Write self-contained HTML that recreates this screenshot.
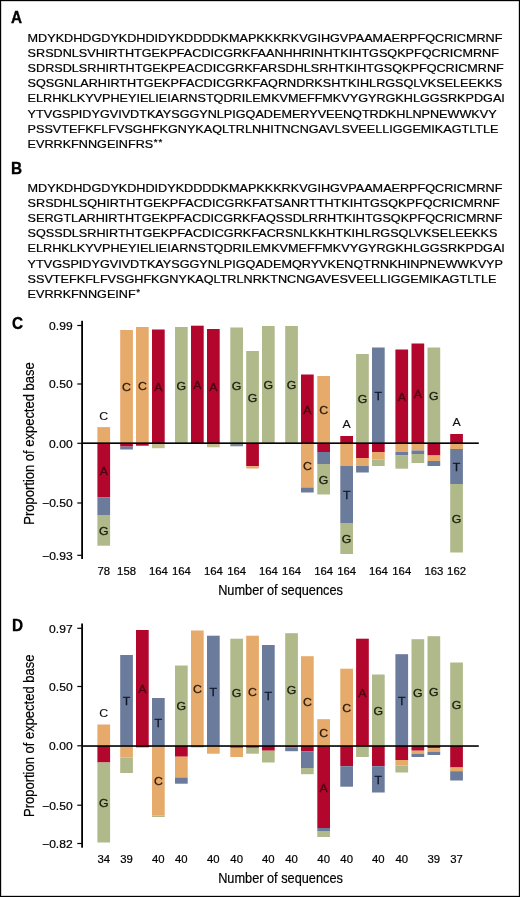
<!DOCTYPE html>
<html><head><meta charset="utf-8"><title>Figure</title>
<style>
html,body{margin:0;padding:0;background:#fff;}
body{width:520px;height:897px;overflow:hidden;position:relative;}
svg{position:absolute;left:0;top:0;display:block;filter:blur(0.35px);}
svg text{font-family:"Liberation Sans",sans-serif;}
#frame{position:absolute;left:0;top:0;width:518px;height:895px;border:1px solid #000;box-shadow:inset 0 0 0 0.5px rgba(0,0,0,0.35);}
</style></head><body>
<svg width="520" height="897" viewBox="0 0 520 897">
<rect x="0" y="0" width="520" height="897" fill="#fff"/>
<text transform="translate(11.00,22.60) scale(0.94,1)" font-size="16.3" text-anchor="start" font-weight="bold" fill="#000" stroke="#000" stroke-width="0.35">A</text>
<text transform="translate(27.60,41.60) scale(1.1694,1)" font-size="10.8" text-anchor="start" font-weight="normal" fill="#000" stroke="#000" stroke-width="0.2">MDYKDHDGDYKDHDIDYKDDDDKMAPKKKRKVGIHGVPAAMAERPFQCRICMRNF</text>
<text transform="translate(27.60,56.79) scale(1.1694,1)" font-size="10.8" text-anchor="start" font-weight="normal" fill="#000" stroke="#000" stroke-width="0.2">SRSDNLSVHIRTHTGEKPFACDICGRKFAANHHRINHTKIHTGSQKPFQCRICMRNF</text>
<text transform="translate(27.60,71.98) scale(1.1694,1)" font-size="10.8" text-anchor="start" font-weight="normal" fill="#000" stroke="#000" stroke-width="0.2">SDRSDLSRHIRTHTGEKPEACDICGRKFARSDHLSRHTKIHTGSQKPFQCRICMRNF</text>
<text transform="translate(27.60,87.17) scale(1.1694,1)" font-size="10.8" text-anchor="start" font-weight="normal" fill="#000" stroke="#000" stroke-width="0.2">SQSGNLARHIRTHTGEKPFACDICGRKFAQRNDRKSHTKIHLRGSQLVKSELEEKKS</text>
<text transform="translate(27.60,102.36) scale(1.1694,1)" font-size="10.8" text-anchor="start" font-weight="normal" fill="#000" stroke="#000" stroke-width="0.2">ELRHKLKYVPHEYIELIEIARNSTQDRILEMKVMEFFMKVYGYRGKHLGGSRKPDGAI</text>
<text transform="translate(27.60,117.55) scale(1.1694,1)" font-size="10.8" text-anchor="start" font-weight="normal" fill="#000" stroke="#000" stroke-width="0.2">YTVGSPIDYGVIVDTKAYSGGYNLPIGQADEMERYVEENQTRDKHLNPNEWWKVY</text>
<text transform="translate(27.60,132.74) scale(1.1694,1)" font-size="10.8" text-anchor="start" font-weight="normal" fill="#000" stroke="#000" stroke-width="0.2">PSSVTEFKFLFVSGHFKGNYKAQLTRLNHITNCNGAVLSVEELLIGGEMIKAGTLTLE</text>
<text transform="translate(27.60,147.93) scale(1.1694,1)" font-size="10.8" text-anchor="start" font-weight="normal" fill="#000" stroke="#000" stroke-width="0.2">EVRRKFNNGEINFRS<tspan font-size="8.4" dx="0.5" dy="-2.6">*</tspan><tspan font-size="8.4" dx="0.7">*</tspan></text>
<text transform="translate(11.10,173.80) scale(0.94,1)" font-size="16.3" text-anchor="start" font-weight="bold" fill="#000" stroke="#000" stroke-width="0.35">B</text>
<text transform="translate(27.60,191.70) scale(1.1694,1)" font-size="10.8" text-anchor="start" font-weight="normal" fill="#000" stroke="#000" stroke-width="0.2">MDYKDHDGDYKDHDIDYKDDDDKMAPKKKRKVGIHGVPAAMAERPFQCRICMRNF</text>
<text transform="translate(27.60,206.89) scale(1.1694,1)" font-size="10.8" text-anchor="start" font-weight="normal" fill="#000" stroke="#000" stroke-width="0.2">SRSDHLSQHIRTHTGEKPFACDICGRKFATSANRTTHTKIHTGSQKPFQCRICMRNF</text>
<text transform="translate(27.60,222.08) scale(1.1694,1)" font-size="10.8" text-anchor="start" font-weight="normal" fill="#000" stroke="#000" stroke-width="0.2">SERGTLARHIRTHTGEKPFACDICGRKFAQSSDLRRHTKIHTGSQKPFQCRICMRNF</text>
<text transform="translate(27.60,237.27) scale(1.1694,1)" font-size="10.8" text-anchor="start" font-weight="normal" fill="#000" stroke="#000" stroke-width="0.2">SQSSDLSRHIRTHTGEKPFACDICGRKFACRSNLKKHTKIHLRGSQLVKSELEEKKS</text>
<text transform="translate(27.60,252.46) scale(1.1694,1)" font-size="10.8" text-anchor="start" font-weight="normal" fill="#000" stroke="#000" stroke-width="0.2">ELRHKLKYVPHEYIELIEIARNSTQDRILEMKVMEFFMKVYGYRGKHLGGSRKPDGAI</text>
<text transform="translate(27.60,267.65) scale(1.1694,1)" font-size="10.8" text-anchor="start" font-weight="normal" fill="#000" stroke="#000" stroke-width="0.2">YTVGSPIDYGVIVDTKAYSGGYNLPIGQADEMQRYVKENQTRNKHINPNEWWKVYP</text>
<text transform="translate(27.60,282.84) scale(1.1694,1)" font-size="10.8" text-anchor="start" font-weight="normal" fill="#000" stroke="#000" stroke-width="0.2">SSVTEFKFLFVSGHFKGNYKAQLTRLNRKTNCNGAVESVEELLIGGEMIKAGTLTLE</text>
<text transform="translate(27.60,298.03) scale(1.1694,1)" font-size="10.8" text-anchor="start" font-weight="normal" fill="#000" stroke="#000" stroke-width="0.2">EVRRKFNNGEINF<tspan font-size="8.4" dx="0.5" dy="-2.6">*</tspan></text>
<rect x="97.40" y="427.10" width="12.7" height="16.00" fill="#e6aa6a"/>
<rect x="97.40" y="443.10" width="12.7" height="54.40" fill="#b3062c"/>
<rect x="97.40" y="497.50" width="12.7" height="17.50" fill="#6b7b9c"/>
<rect x="97.40" y="515.00" width="12.7" height="30.70" fill="#b0b98a"/>
<rect x="120.20" y="330.00" width="12.7" height="113.10" fill="#e6aa6a"/>
<rect x="120.20" y="443.10" width="12.7" height="3.50" fill="#b3062c"/>
<rect x="120.20" y="446.60" width="12.7" height="2.90" fill="#6b7b9c"/>
<rect x="136.00" y="327.00" width="12.7" height="116.10" fill="#e6aa6a"/>
<rect x="136.00" y="443.10" width="12.7" height="2.60" fill="#b3062c"/>
<rect x="152.00" y="329.50" width="12.7" height="113.60" fill="#b3062c"/>
<rect x="152.00" y="443.10" width="12.7" height="5.10" fill="#c3bf8f"/>
<rect x="175.00" y="327.00" width="12.7" height="116.10" fill="#b0b98a"/>
<rect x="191.00" y="325.70" width="12.7" height="117.40" fill="#b3062c"/>
<rect x="207.00" y="329.00" width="12.7" height="114.10" fill="#b3062c"/>
<rect x="207.00" y="443.10" width="12.7" height="4.20" fill="#c3bf8f"/>
<rect x="230.30" y="327.50" width="12.7" height="115.60" fill="#b0b98a"/>
<rect x="230.30" y="443.10" width="12.7" height="3.20" fill="#7f8894"/>
<rect x="246.20" y="351.00" width="12.7" height="92.10" fill="#b0b98a"/>
<rect x="246.20" y="443.10" width="12.7" height="23.10" fill="#b3062c"/>
<rect x="246.20" y="466.20" width="12.7" height="2.30" fill="#e6aa6a"/>
<rect x="262.00" y="326.00" width="12.7" height="117.10" fill="#b0b98a"/>
<rect x="285.20" y="326.00" width="12.7" height="117.10" fill="#b0b98a"/>
<rect x="301.00" y="374.50" width="12.7" height="68.60" fill="#b3062c"/>
<rect x="301.00" y="443.10" width="12.7" height="44.40" fill="#e6aa6a"/>
<rect x="301.00" y="487.50" width="12.7" height="5.00" fill="#6b7b9c"/>
<rect x="317.30" y="376.00" width="12.7" height="67.10" fill="#e6aa6a"/>
<rect x="317.30" y="443.10" width="12.7" height="8.90" fill="#b3062c"/>
<rect x="317.30" y="452.00" width="12.7" height="12.00" fill="#6b7b9c"/>
<rect x="317.30" y="464.00" width="12.7" height="30.50" fill="#b0b98a"/>
<rect x="340.30" y="436.00" width="12.7" height="7.10" fill="#b3062c"/>
<rect x="340.30" y="443.10" width="12.7" height="22.90" fill="#e6aa6a"/>
<rect x="340.30" y="466.00" width="12.7" height="57.00" fill="#6b7b9c"/>
<rect x="340.30" y="523.00" width="12.7" height="31.00" fill="#b0b98a"/>
<rect x="356.10" y="354.00" width="12.7" height="89.10" fill="#b0b98a"/>
<rect x="356.10" y="443.10" width="12.7" height="14.90" fill="#b3062c"/>
<rect x="356.10" y="458.00" width="12.7" height="8.00" fill="#e6aa6a"/>
<rect x="356.10" y="466.00" width="12.7" height="6.50" fill="#6b7b9c"/>
<rect x="372.00" y="347.50" width="12.7" height="95.60" fill="#6b7b9c"/>
<rect x="372.00" y="443.10" width="12.7" height="8.90" fill="#b3062c"/>
<rect x="372.00" y="452.00" width="12.7" height="7.50" fill="#e6aa6a"/>
<rect x="372.00" y="459.50" width="12.7" height="6.50" fill="#b0b98a"/>
<rect x="395.40" y="349.50" width="12.7" height="93.60" fill="#b3062c"/>
<rect x="395.40" y="443.10" width="12.7" height="8.90" fill="#e6aa6a"/>
<rect x="395.40" y="452.00" width="12.7" height="3.50" fill="#6b7b9c"/>
<rect x="395.40" y="455.50" width="12.7" height="13.20" fill="#b0b98a"/>
<rect x="411.50" y="343.50" width="12.7" height="99.60" fill="#b3062c"/>
<rect x="411.50" y="443.10" width="12.7" height="7.40" fill="#e6aa6a"/>
<rect x="411.50" y="450.50" width="12.7" height="3.50" fill="#6b7b9c"/>
<rect x="411.50" y="454.00" width="12.7" height="9.00" fill="#b0b98a"/>
<rect x="427.50" y="347.50" width="12.7" height="95.60" fill="#b0b98a"/>
<rect x="427.50" y="443.10" width="12.7" height="12.40" fill="#b3062c"/>
<rect x="427.50" y="455.50" width="12.7" height="5.50" fill="#e6aa6a"/>
<rect x="427.50" y="461.00" width="12.7" height="5.00" fill="#6b7b9c"/>
<rect x="450.20" y="434.00" width="12.7" height="9.10" fill="#b3062c"/>
<rect x="450.20" y="443.10" width="12.7" height="5.90" fill="#e6aa6a"/>
<rect x="450.20" y="449.00" width="12.7" height="35.00" fill="#6b7b9c"/>
<rect x="450.20" y="484.00" width="12.7" height="68.50" fill="#b0b98a"/>
<rect x="82" y="442.38" width="396.8" height="1.6" fill="#000"/>
<rect x="81.2" y="320.8" width="1.8" height="238.2" fill="#000"/>
<rect x="77.3" y="324.90" width="4.5" height="1.2" fill="#000"/>
<text transform="translate(72.60,329.90) scale(1.15,1)" font-size="10.5" text-anchor="end" font-weight="normal" fill="#000" stroke="#000" stroke-width="0.2">0.99</text>
<rect x="77.3" y="383.40" width="4.5" height="1.2" fill="#000"/>
<text transform="translate(72.60,388.40) scale(1.15,1)" font-size="10.5" text-anchor="end" font-weight="normal" fill="#000" stroke="#000" stroke-width="0.2">0.50</text>
<rect x="77.3" y="442.70" width="4.5" height="1.2" fill="#000"/>
<text transform="translate(72.60,447.70) scale(1.15,1)" font-size="10.5" text-anchor="end" font-weight="normal" fill="#000" stroke="#000" stroke-width="0.2">0.00</text>
<rect x="77.3" y="502.40" width="4.5" height="1.2" fill="#000"/>
<text transform="translate(72.60,507.40) scale(1.15,1)" font-size="10.5" text-anchor="end" font-weight="normal" fill="#000" stroke="#000" stroke-width="0.2">−0.50</text>
<rect x="77.3" y="554.70" width="4.5" height="1.2" fill="#000"/>
<text transform="translate(72.60,559.70) scale(1.15,1)" font-size="10.5" text-anchor="end" font-weight="normal" fill="#000" stroke="#000" stroke-width="0.2">−0.93</text>
<text transform="translate(103.75,419.50) scale(1.12,1)" font-size="11.0" text-anchor="middle" font-weight="normal" fill="#111" stroke="#111" stroke-width="0.12">C</text>
<text transform="translate(103.75,475.00) scale(1.12,1)" font-size="11.0" text-anchor="middle" font-weight="normal" fill="#4a0413" stroke="#4a0413" stroke-width="0.28">A</text>
<text transform="translate(103.75,535.05) scale(1.12,1)" font-size="11.0" text-anchor="middle" font-weight="normal" fill="#1a1c0e" stroke="#1a1c0e" stroke-width="0.28">G</text>
<text transform="translate(126.55,391.25) scale(1.12,1)" font-size="11.0" text-anchor="middle" font-weight="normal" fill="#2a1a0c" stroke="#2a1a0c" stroke-width="0.28">C</text>
<text transform="translate(142.35,389.75) scale(1.12,1)" font-size="11.0" text-anchor="middle" font-weight="normal" fill="#2a1a0c" stroke="#2a1a0c" stroke-width="0.28">C</text>
<text transform="translate(158.35,391.00) scale(1.12,1)" font-size="11.0" text-anchor="middle" font-weight="normal" fill="#4a0413" stroke="#4a0413" stroke-width="0.28">A</text>
<text transform="translate(181.35,389.75) scale(1.12,1)" font-size="11.0" text-anchor="middle" font-weight="normal" fill="#1a1c0e" stroke="#1a1c0e" stroke-width="0.28">G</text>
<text transform="translate(197.35,389.10) scale(1.12,1)" font-size="11.0" text-anchor="middle" font-weight="normal" fill="#4a0413" stroke="#4a0413" stroke-width="0.28">A</text>
<text transform="translate(213.35,390.75) scale(1.12,1)" font-size="11.0" text-anchor="middle" font-weight="normal" fill="#4a0413" stroke="#4a0413" stroke-width="0.28">A</text>
<text transform="translate(236.65,390.00) scale(1.12,1)" font-size="11.0" text-anchor="middle" font-weight="normal" fill="#1a1c0e" stroke="#1a1c0e" stroke-width="0.28">G</text>
<text transform="translate(252.55,401.75) scale(1.12,1)" font-size="11.0" text-anchor="middle" font-weight="normal" fill="#1a1c0e" stroke="#1a1c0e" stroke-width="0.28">G</text>
<text transform="translate(268.35,389.25) scale(1.12,1)" font-size="11.0" text-anchor="middle" font-weight="normal" fill="#1a1c0e" stroke="#1a1c0e" stroke-width="0.28">G</text>
<text transform="translate(291.55,389.25) scale(1.12,1)" font-size="11.0" text-anchor="middle" font-weight="normal" fill="#1a1c0e" stroke="#1a1c0e" stroke-width="0.28">G</text>
<text transform="translate(307.35,413.50) scale(1.12,1)" font-size="11.0" text-anchor="middle" font-weight="normal" fill="#4a0413" stroke="#4a0413" stroke-width="0.28">A</text>
<text transform="translate(307.35,470.00) scale(1.12,1)" font-size="11.0" text-anchor="middle" font-weight="normal" fill="#2a1a0c" stroke="#2a1a0c" stroke-width="0.28">C</text>
<text transform="translate(323.65,414.25) scale(1.12,1)" font-size="11.0" text-anchor="middle" font-weight="normal" fill="#2a1a0c" stroke="#2a1a0c" stroke-width="0.28">C</text>
<text transform="translate(323.65,483.95) scale(1.12,1)" font-size="11.0" text-anchor="middle" font-weight="normal" fill="#1a1c0e" stroke="#1a1c0e" stroke-width="0.28">G</text>
<text transform="translate(346.65,428.40) scale(1.12,1)" font-size="11.0" text-anchor="middle" font-weight="normal" fill="#111" stroke="#111" stroke-width="0.12">A</text>
<text transform="translate(346.65,499.20) scale(1.12,1)" font-size="11.0" text-anchor="middle" font-weight="normal" fill="#10162a" stroke="#10162a" stroke-width="0.28">T</text>
<text transform="translate(346.65,543.20) scale(1.12,1)" font-size="11.0" text-anchor="middle" font-weight="normal" fill="#1a1c0e" stroke="#1a1c0e" stroke-width="0.28">G</text>
<text transform="translate(362.45,403.25) scale(1.12,1)" font-size="11.0" text-anchor="middle" font-weight="normal" fill="#1a1c0e" stroke="#1a1c0e" stroke-width="0.28">G</text>
<text transform="translate(378.35,400.00) scale(1.12,1)" font-size="11.0" text-anchor="middle" font-weight="normal" fill="#10162a" stroke="#10162a" stroke-width="0.28">T</text>
<text transform="translate(401.75,401.00) scale(1.12,1)" font-size="11.0" text-anchor="middle" font-weight="normal" fill="#4a0413" stroke="#4a0413" stroke-width="0.28">A</text>
<text transform="translate(417.85,398.00) scale(1.12,1)" font-size="11.0" text-anchor="middle" font-weight="normal" fill="#4a0413" stroke="#4a0413" stroke-width="0.28">A</text>
<text transform="translate(433.85,400.00) scale(1.12,1)" font-size="11.0" text-anchor="middle" font-weight="normal" fill="#1a1c0e" stroke="#1a1c0e" stroke-width="0.28">G</text>
<text transform="translate(456.55,426.40) scale(1.12,1)" font-size="11.0" text-anchor="middle" font-weight="normal" fill="#111" stroke="#111" stroke-width="0.12">A</text>
<text transform="translate(456.55,471.20) scale(1.12,1)" font-size="11.0" text-anchor="middle" font-weight="normal" fill="#10162a" stroke="#10162a" stroke-width="0.28">T</text>
<text transform="translate(456.55,522.95) scale(1.12,1)" font-size="11.0" text-anchor="middle" font-weight="normal" fill="#1a1c0e" stroke="#1a1c0e" stroke-width="0.28">G</text>
<text transform="translate(103.75,574.60) scale(1.08,1)" font-size="10.5" text-anchor="middle" font-weight="normal" fill="#000" stroke="#000" stroke-width="0.2">78</text>
<text transform="translate(126.55,574.60) scale(1.08,1)" font-size="10.5" text-anchor="middle" font-weight="normal" fill="#000" stroke="#000" stroke-width="0.2">158</text>
<text transform="translate(158.35,574.60) scale(1.08,1)" font-size="10.5" text-anchor="middle" font-weight="normal" fill="#000" stroke="#000" stroke-width="0.2">164</text>
<text transform="translate(181.35,574.60) scale(1.08,1)" font-size="10.5" text-anchor="middle" font-weight="normal" fill="#000" stroke="#000" stroke-width="0.2">164</text>
<text transform="translate(213.35,574.60) scale(1.08,1)" font-size="10.5" text-anchor="middle" font-weight="normal" fill="#000" stroke="#000" stroke-width="0.2">164</text>
<text transform="translate(236.65,574.60) scale(1.08,1)" font-size="10.5" text-anchor="middle" font-weight="normal" fill="#000" stroke="#000" stroke-width="0.2">164</text>
<text transform="translate(268.35,574.60) scale(1.08,1)" font-size="10.5" text-anchor="middle" font-weight="normal" fill="#000" stroke="#000" stroke-width="0.2">164</text>
<text transform="translate(291.55,574.60) scale(1.08,1)" font-size="10.5" text-anchor="middle" font-weight="normal" fill="#000" stroke="#000" stroke-width="0.2">164</text>
<text transform="translate(323.65,574.60) scale(1.08,1)" font-size="10.5" text-anchor="middle" font-weight="normal" fill="#000" stroke="#000" stroke-width="0.2">164</text>
<text transform="translate(346.65,574.60) scale(1.08,1)" font-size="10.5" text-anchor="middle" font-weight="normal" fill="#000" stroke="#000" stroke-width="0.2">164</text>
<text transform="translate(378.35,574.60) scale(1.08,1)" font-size="10.5" text-anchor="middle" font-weight="normal" fill="#000" stroke="#000" stroke-width="0.2">164</text>
<text transform="translate(401.75,574.60) scale(1.08,1)" font-size="10.5" text-anchor="middle" font-weight="normal" fill="#000" stroke="#000" stroke-width="0.2">164</text>
<text transform="translate(433.85,574.60) scale(1.08,1)" font-size="10.5" text-anchor="middle" font-weight="normal" fill="#000" stroke="#000" stroke-width="0.2">163</text>
<text transform="translate(456.55,574.60) scale(1.08,1)" font-size="10.5" text-anchor="middle" font-weight="normal" fill="#000" stroke="#000" stroke-width="0.2">162</text>
<text transform="translate(280.50,594.60) scale(0.88,1)" font-size="14.5" text-anchor="middle" font-weight="normal" fill="#000" stroke="#000" stroke-width="0.2">Number of sequences</text>
<text transform="translate(34.3,443.50) rotate(-90) scale(0.896,1)" font-size="14.5" text-anchor="middle" fill="#000" stroke="#000" stroke-width="0.2">Proportion of expected base</text>
<text transform="translate(11.90,329.30) scale(0.94,1)" font-size="16.3" text-anchor="start" font-weight="bold" fill="#000" stroke="#000" stroke-width="0.35">C</text>
<rect x="97.40" y="724.50" width="12.7" height="21.45" fill="#e6aa6a"/>
<rect x="97.40" y="745.95" width="12.7" height="16.55" fill="#b3062c"/>
<rect x="97.40" y="762.50" width="12.7" height="80.00" fill="#b0b98a"/>
<rect x="120.20" y="655.00" width="12.7" height="90.95" fill="#6b7b9c"/>
<rect x="120.20" y="745.95" width="12.7" height="11.55" fill="#e6aa6a"/>
<rect x="120.20" y="757.50" width="12.7" height="15.50" fill="#b0b98a"/>
<rect x="136.00" y="630.00" width="12.7" height="115.95" fill="#b3062c"/>
<rect x="136.00" y="745.95" width="12.7" height="1.35" fill="#b3062c"/>
<rect x="152.00" y="698.00" width="12.7" height="47.95" fill="#6b7b9c"/>
<rect x="152.00" y="745.95" width="12.7" height="69.55" fill="#e6aa6a"/>
<rect x="152.00" y="815.50" width="12.7" height="1.50" fill="#b0b98a"/>
<rect x="175.00" y="665.50" width="12.7" height="80.45" fill="#b0b98a"/>
<rect x="175.00" y="745.95" width="12.7" height="10.75" fill="#b3062c"/>
<rect x="175.00" y="756.70" width="12.7" height="20.80" fill="#e6aa6a"/>
<rect x="175.00" y="777.50" width="12.7" height="6.20" fill="#6b7b9c"/>
<rect x="191.00" y="630.50" width="12.7" height="115.45" fill="#e6aa6a"/>
<rect x="191.00" y="745.95" width="12.7" height="1.35" fill="#7f8894"/>
<rect x="207.00" y="635.70" width="12.7" height="110.25" fill="#6b7b9c"/>
<rect x="207.00" y="745.95" width="12.7" height="7.75" fill="#e6aa6a"/>
<rect x="230.30" y="638.70" width="12.7" height="107.25" fill="#b0b98a"/>
<rect x="230.30" y="745.95" width="12.7" height="1.85" fill="#b3062c"/>
<rect x="230.30" y="747.80" width="12.7" height="9.20" fill="#e6aa6a"/>
<rect x="246.20" y="635.70" width="12.7" height="110.25" fill="#e6aa6a"/>
<rect x="246.20" y="745.95" width="12.7" height="1.85" fill="#b3062c"/>
<rect x="246.20" y="747.80" width="12.7" height="5.90" fill="#b0b98a"/>
<rect x="262.00" y="645.00" width="12.7" height="100.95" fill="#6b7b9c"/>
<rect x="262.00" y="745.95" width="12.7" height="4.75" fill="#b3062c"/>
<rect x="262.00" y="750.70" width="12.7" height="11.80" fill="#b0b98a"/>
<rect x="285.20" y="633.20" width="12.7" height="112.75" fill="#b0b98a"/>
<rect x="285.20" y="745.95" width="12.7" height="1.35" fill="#b3062c"/>
<rect x="285.20" y="747.30" width="12.7" height="3.90" fill="#6b7b9c"/>
<rect x="301.00" y="656.20" width="12.7" height="89.75" fill="#e6aa6a"/>
<rect x="301.00" y="745.95" width="12.7" height="5.25" fill="#b3062c"/>
<rect x="301.00" y="751.20" width="12.7" height="16.80" fill="#6b7b9c"/>
<rect x="301.00" y="768.00" width="12.7" height="6.20" fill="#b0b98a"/>
<rect x="317.30" y="719.20" width="12.7" height="26.75" fill="#e6aa6a"/>
<rect x="317.30" y="745.95" width="12.7" height="82.05" fill="#b3062c"/>
<rect x="317.30" y="828.00" width="12.7" height="3.00" fill="#6b7b9c"/>
<rect x="317.30" y="831.00" width="12.7" height="6.00" fill="#b0b98a"/>
<rect x="340.30" y="668.70" width="12.7" height="77.25" fill="#e6aa6a"/>
<rect x="340.30" y="745.95" width="12.7" height="20.25" fill="#b3062c"/>
<rect x="340.30" y="766.20" width="12.7" height="20.50" fill="#6b7b9c"/>
<rect x="356.10" y="638.70" width="12.7" height="107.25" fill="#b3062c"/>
<rect x="356.10" y="745.95" width="12.7" height="11.05" fill="#b0b98a"/>
<rect x="372.00" y="674.50" width="12.7" height="71.45" fill="#b0b98a"/>
<rect x="372.00" y="745.95" width="12.7" height="20.25" fill="#b3062c"/>
<rect x="372.00" y="766.20" width="12.7" height="26.30" fill="#6b7b9c"/>
<rect x="395.40" y="654.20" width="12.7" height="91.75" fill="#6b7b9c"/>
<rect x="395.40" y="745.95" width="12.7" height="14.05" fill="#b3062c"/>
<rect x="395.40" y="760.00" width="12.7" height="5.50" fill="#e6aa6a"/>
<rect x="395.40" y="765.50" width="12.7" height="7.00" fill="#b0b98a"/>
<rect x="411.50" y="639.20" width="12.7" height="106.75" fill="#b0b98a"/>
<rect x="411.50" y="745.95" width="12.7" height="4.75" fill="#b3062c"/>
<rect x="411.50" y="750.70" width="12.7" height="3.00" fill="#e6aa6a"/>
<rect x="411.50" y="753.70" width="12.7" height="3.30" fill="#6b7b9c"/>
<rect x="427.50" y="636.20" width="12.7" height="109.75" fill="#b0b98a"/>
<rect x="427.50" y="745.95" width="12.7" height="2.25" fill="#b3062c"/>
<rect x="427.50" y="748.20" width="12.7" height="3.50" fill="#e6aa6a"/>
<rect x="427.50" y="751.70" width="12.7" height="3.30" fill="#6b7b9c"/>
<rect x="450.20" y="662.50" width="12.7" height="83.45" fill="#b0b98a"/>
<rect x="450.20" y="745.95" width="12.7" height="21.55" fill="#b3062c"/>
<rect x="450.20" y="767.50" width="12.7" height="3.70" fill="#e6aa6a"/>
<rect x="450.20" y="771.20" width="12.7" height="9.30" fill="#6b7b9c"/>
<rect x="82" y="745.23" width="396.8" height="1.6" fill="#000"/>
<rect x="81.2" y="623.5" width="1.8" height="224.20000000000005" fill="#000"/>
<rect x="77.3" y="627.70" width="4.5" height="1.2" fill="#000"/>
<text transform="translate(72.60,632.70) scale(1.15,1)" font-size="10.5" text-anchor="end" font-weight="normal" fill="#000" stroke="#000" stroke-width="0.2">0.97</text>
<rect x="77.3" y="685.90" width="4.5" height="1.2" fill="#000"/>
<text transform="translate(72.60,690.90) scale(1.15,1)" font-size="10.5" text-anchor="end" font-weight="normal" fill="#000" stroke="#000" stroke-width="0.2">0.50</text>
<rect x="77.3" y="745.20" width="4.5" height="1.2" fill="#000"/>
<text transform="translate(72.60,750.20) scale(1.15,1)" font-size="10.5" text-anchor="end" font-weight="normal" fill="#000" stroke="#000" stroke-width="0.2">0.00</text>
<rect x="77.3" y="804.60" width="4.5" height="1.2" fill="#000"/>
<text transform="translate(72.60,809.60) scale(1.15,1)" font-size="10.5" text-anchor="end" font-weight="normal" fill="#000" stroke="#000" stroke-width="0.2">−0.50</text>
<rect x="77.3" y="842.90" width="4.5" height="1.2" fill="#000"/>
<text transform="translate(72.60,847.90) scale(1.15,1)" font-size="10.5" text-anchor="end" font-weight="normal" fill="#000" stroke="#000" stroke-width="0.2">−0.82</text>
<text transform="translate(103.75,716.90) scale(1.12,1)" font-size="11.0" text-anchor="middle" font-weight="normal" fill="#111" stroke="#111" stroke-width="0.12">C</text>
<text transform="translate(103.75,807.20) scale(1.12,1)" font-size="11.0" text-anchor="middle" font-weight="normal" fill="#1a1c0e" stroke="#1a1c0e" stroke-width="0.28">G</text>
<text transform="translate(126.55,705.17) scale(1.12,1)" font-size="11.0" text-anchor="middle" font-weight="normal" fill="#10162a" stroke="#10162a" stroke-width="0.28">T</text>
<text transform="translate(142.35,692.67) scale(1.12,1)" font-size="11.0" text-anchor="middle" font-weight="normal" fill="#4a0413" stroke="#4a0413" stroke-width="0.28">A</text>
<text transform="translate(158.35,726.67) scale(1.12,1)" font-size="11.0" text-anchor="middle" font-weight="normal" fill="#10162a" stroke="#10162a" stroke-width="0.28">T</text>
<text transform="translate(158.35,785.42) scale(1.12,1)" font-size="11.0" text-anchor="middle" font-weight="normal" fill="#2a1a0c" stroke="#2a1a0c" stroke-width="0.28">C</text>
<text transform="translate(181.35,710.42) scale(1.12,1)" font-size="11.0" text-anchor="middle" font-weight="normal" fill="#1a1c0e" stroke="#1a1c0e" stroke-width="0.28">G</text>
<text transform="translate(197.35,692.92) scale(1.12,1)" font-size="11.0" text-anchor="middle" font-weight="normal" fill="#2a1a0c" stroke="#2a1a0c" stroke-width="0.28">C</text>
<text transform="translate(213.35,695.52) scale(1.12,1)" font-size="11.0" text-anchor="middle" font-weight="normal" fill="#10162a" stroke="#10162a" stroke-width="0.28">T</text>
<text transform="translate(236.65,697.02) scale(1.12,1)" font-size="11.0" text-anchor="middle" font-weight="normal" fill="#1a1c0e" stroke="#1a1c0e" stroke-width="0.28">G</text>
<text transform="translate(252.55,695.52) scale(1.12,1)" font-size="11.0" text-anchor="middle" font-weight="normal" fill="#2a1a0c" stroke="#2a1a0c" stroke-width="0.28">C</text>
<text transform="translate(268.35,700.17) scale(1.12,1)" font-size="11.0" text-anchor="middle" font-weight="normal" fill="#10162a" stroke="#10162a" stroke-width="0.28">T</text>
<text transform="translate(291.55,694.27) scale(1.12,1)" font-size="11.0" text-anchor="middle" font-weight="normal" fill="#1a1c0e" stroke="#1a1c0e" stroke-width="0.28">G</text>
<text transform="translate(307.35,705.77) scale(1.12,1)" font-size="11.0" text-anchor="middle" font-weight="normal" fill="#2a1a0c" stroke="#2a1a0c" stroke-width="0.28">C</text>
<text transform="translate(323.65,737.27) scale(1.12,1)" font-size="11.0" text-anchor="middle" font-weight="normal" fill="#2a1a0c" stroke="#2a1a0c" stroke-width="0.28">C</text>
<text transform="translate(323.65,791.67) scale(1.12,1)" font-size="11.0" text-anchor="middle" font-weight="normal" fill="#4a0413" stroke="#4a0413" stroke-width="0.28">A</text>
<text transform="translate(346.65,712.02) scale(1.12,1)" font-size="11.0" text-anchor="middle" font-weight="normal" fill="#2a1a0c" stroke="#2a1a0c" stroke-width="0.28">C</text>
<text transform="translate(362.45,697.02) scale(1.12,1)" font-size="11.0" text-anchor="middle" font-weight="normal" fill="#4a0413" stroke="#4a0413" stroke-width="0.28">A</text>
<text transform="translate(378.35,714.92) scale(1.12,1)" font-size="11.0" text-anchor="middle" font-weight="normal" fill="#1a1c0e" stroke="#1a1c0e" stroke-width="0.28">G</text>
<text transform="translate(378.35,784.05) scale(1.12,1)" font-size="11.0" text-anchor="middle" font-weight="normal" fill="#10162a" stroke="#10162a" stroke-width="0.28">T</text>
<text transform="translate(401.75,704.77) scale(1.12,1)" font-size="11.0" text-anchor="middle" font-weight="normal" fill="#10162a" stroke="#10162a" stroke-width="0.28">T</text>
<text transform="translate(417.85,697.27) scale(1.12,1)" font-size="11.0" text-anchor="middle" font-weight="normal" fill="#1a1c0e" stroke="#1a1c0e" stroke-width="0.28">G</text>
<text transform="translate(433.85,695.77) scale(1.12,1)" font-size="11.0" text-anchor="middle" font-weight="normal" fill="#1a1c0e" stroke="#1a1c0e" stroke-width="0.28">G</text>
<text transform="translate(456.55,708.92) scale(1.12,1)" font-size="11.0" text-anchor="middle" font-weight="normal" fill="#1a1c0e" stroke="#1a1c0e" stroke-width="0.28">G</text>
<text transform="translate(103.75,863.20) scale(1.08,1)" font-size="10.5" text-anchor="middle" font-weight="normal" fill="#000" stroke="#000" stroke-width="0.2">34</text>
<text transform="translate(126.55,863.20) scale(1.08,1)" font-size="10.5" text-anchor="middle" font-weight="normal" fill="#000" stroke="#000" stroke-width="0.2">39</text>
<text transform="translate(158.35,863.20) scale(1.08,1)" font-size="10.5" text-anchor="middle" font-weight="normal" fill="#000" stroke="#000" stroke-width="0.2">40</text>
<text transform="translate(181.35,863.20) scale(1.08,1)" font-size="10.5" text-anchor="middle" font-weight="normal" fill="#000" stroke="#000" stroke-width="0.2">40</text>
<text transform="translate(213.35,863.20) scale(1.08,1)" font-size="10.5" text-anchor="middle" font-weight="normal" fill="#000" stroke="#000" stroke-width="0.2">40</text>
<text transform="translate(236.65,863.20) scale(1.08,1)" font-size="10.5" text-anchor="middle" font-weight="normal" fill="#000" stroke="#000" stroke-width="0.2">40</text>
<text transform="translate(268.35,863.20) scale(1.08,1)" font-size="10.5" text-anchor="middle" font-weight="normal" fill="#000" stroke="#000" stroke-width="0.2">40</text>
<text transform="translate(291.55,863.20) scale(1.08,1)" font-size="10.5" text-anchor="middle" font-weight="normal" fill="#000" stroke="#000" stroke-width="0.2">40</text>
<text transform="translate(323.65,863.20) scale(1.08,1)" font-size="10.5" text-anchor="middle" font-weight="normal" fill="#000" stroke="#000" stroke-width="0.2">40</text>
<text transform="translate(346.65,863.20) scale(1.08,1)" font-size="10.5" text-anchor="middle" font-weight="normal" fill="#000" stroke="#000" stroke-width="0.2">40</text>
<text transform="translate(378.35,863.20) scale(1.08,1)" font-size="10.5" text-anchor="middle" font-weight="normal" fill="#000" stroke="#000" stroke-width="0.2">40</text>
<text transform="translate(401.75,863.20) scale(1.08,1)" font-size="10.5" text-anchor="middle" font-weight="normal" fill="#000" stroke="#000" stroke-width="0.2">40</text>
<text transform="translate(433.85,863.20) scale(1.08,1)" font-size="10.5" text-anchor="middle" font-weight="normal" fill="#000" stroke="#000" stroke-width="0.2">39</text>
<text transform="translate(456.55,863.20) scale(1.08,1)" font-size="10.5" text-anchor="middle" font-weight="normal" fill="#000" stroke="#000" stroke-width="0.2">37</text>
<text transform="translate(280.50,883.40) scale(0.88,1)" font-size="14.5" text-anchor="middle" font-weight="normal" fill="#000" stroke="#000" stroke-width="0.2">Number of sequences</text>
<text transform="translate(34.3,735.80) rotate(-90) scale(0.896,1)" font-size="14.5" text-anchor="middle" fill="#000" stroke="#000" stroke-width="0.2">Proportion of expected base</text>
<text transform="translate(11.90,631.00) scale(0.94,1)" font-size="16.3" text-anchor="start" font-weight="bold" fill="#000" stroke="#000" stroke-width="0.35">D</text>
</svg>
<div id="frame"></div>
</body></html>
